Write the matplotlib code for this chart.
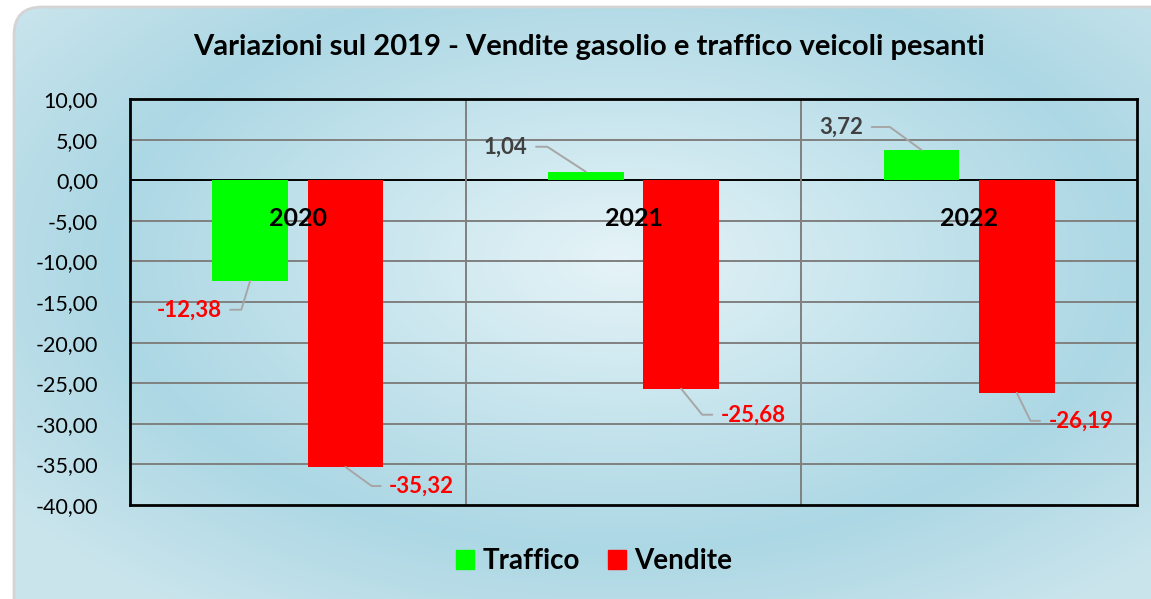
import numpy as np
import matplotlib
matplotlib.use("Agg")
from matplotlib import pyplot as plt
from matplotlib.patches import FancyBboxPatch, Patch
from matplotlib import ticker

plt.rcParams['font.family'] = ['Lato', 'DejaVu Sans']

# data
anni = ['2020', '2021', '2022']
traffico = [-12.38, 1.04, 3.72]
vendite = [-35.32, -25.68, -26.19]
yticks = [10, 5, 0, -5, -10, -15, -20, -25, -30, -35, -40]

W, H = 1151, 599
fig = plt.figure(figsize=(W/100, H/100), dpi=100)
fig.patch.set_facecolor('white')

# background with radial gradient inside a rounded box
bg = fig.add_axes([0, 0, 1, 1])
bg.set_xlim(0, W)
bg.set_ylim(H, 0)
bg.set_axis_off()
yy, xx = np.mgrid[0:H, 0:W]
t = np.sqrt(((xx - 620) / 600.0) ** 2 + ((yy - 260) / 340.0) ** 2)
stops_t = [0.0, 0.85, 1.25]
c0 = np.array([0.90, 0.955, 0.97])
c1 = np.array([0.675, 0.845, 0.895])
c2 = np.array([0.79, 0.895, 0.925])
img = np.zeros((H, W, 3))
for k in range(3):
    img[..., k] = np.interp(t, stops_t, [c0[k], c1[k], c2[k]])
box = FancyBboxPatch((14, 7), 1200, 650, boxstyle="round,pad=0,rounding_size=28",
                     facecolor='none', edgecolor='#d4d4d4', linewidth=2, transform=bg.transData)
bg.add_patch(box)
im = bg.imshow(img, extent=(0, W, H, 0), aspect='auto', interpolation='bilinear')
im.set_clip_path(box)

fig.text(589/W, 1 - 47/H, 'Variazioni sul 2019 - Vendite gasolio e traffico veicoli pesanti',
         ha='center', va='center', fontsize=21, fontweight='bold', color='black')

ax = fig.add_axes([130/W, 1 - 505/H, (1137-130)/W, (505-99)/H])
ax.patch.set_alpha(0)
x = np.arange(len(anni))
bw = 0.226
off = 0.142
b1 = ax.bar(x - off, traffico, width=bw, color='#00ff00', label='Traffico', zorder=3)
b2 = ax.bar(x + off, vendite, width=bw, color='#ff0000', label='Vendite', zorder=3)

ax.set_xlim(-0.5, 2.5)
ax.set_ylim(-40, 10)
ax.set_yticks(yticks)
ax.yaxis.set_major_formatter(ticker.FuncFormatter(lambda v, p: f"{v:.2f}".replace('.', ',')))
ax.tick_params(axis='y', length=0, pad=23, labelsize=15.5)
ax.set_xticks([])
for v in yticks[1:-1]:
    ax.axhline(v, color='#808080' if v != 0 else 'black', lw=1.4, zorder=2)
for s in [0.5, 1.5]:
    ax.axvline(s, color='#808080', lw=1.4, zorder=2)
for sp in ax.spines.values():
    sp.set_linewidth(2)
    sp.set_color('black')

for i, a in enumerate(anni):
    ax.annotate(a, (i, 0), xytext=(0, -38), textcoords='offset pixels', ha='center', va='center',
                fontsize=18, fontweight='bold', zorder=5)

# data labels with leader lines: (offset px, leader angle)
lab_t = [((-61, -29), 73), ((-80, 25), 147), ((-80, 23), 144)]
lab_v = [((76, -19), -36), ((72, -26), -51), ((64, -28), -64)]

def lab(xv, v, o, ang):
    col = '#ff0000' if v < 0 else '#404040'
    ax.annotate(f"{v:.2f}".replace('.', ','), (xv, v), xytext=o, textcoords='offset pixels',
                ha='center', va='center', fontsize=16, fontweight='bold', color=col, zorder=6,
                arrowprops=dict(arrowstyle='-', color='#a6a6a6', lw=1.4, shrinkA=4, shrinkB=0,
                                connectionstyle=f"angle,angleA=0,angleB={ang},rad=0"))

for i in range(len(anni)):
    lab(x[i] - off, traffico[i], *lab_t[i])
    lab(x[i] + off, vendite[i], *lab_v[i])

fig.legend(handles=[Patch(color='#00ff00', label='Traffico'), Patch(color='#ff0000', label='Vendite')],
           loc='center', bbox_to_anchor=(594/W, 1 - 561/H), ncol=2, frameon=False,
           prop={'size': 20, 'weight': 'bold'}, handlelength=0.65, handleheight=0.65,
           handletextpad=0.3, columnspacing=1.0)

fig.savefig('out.png', dpi=100, facecolor='white')
